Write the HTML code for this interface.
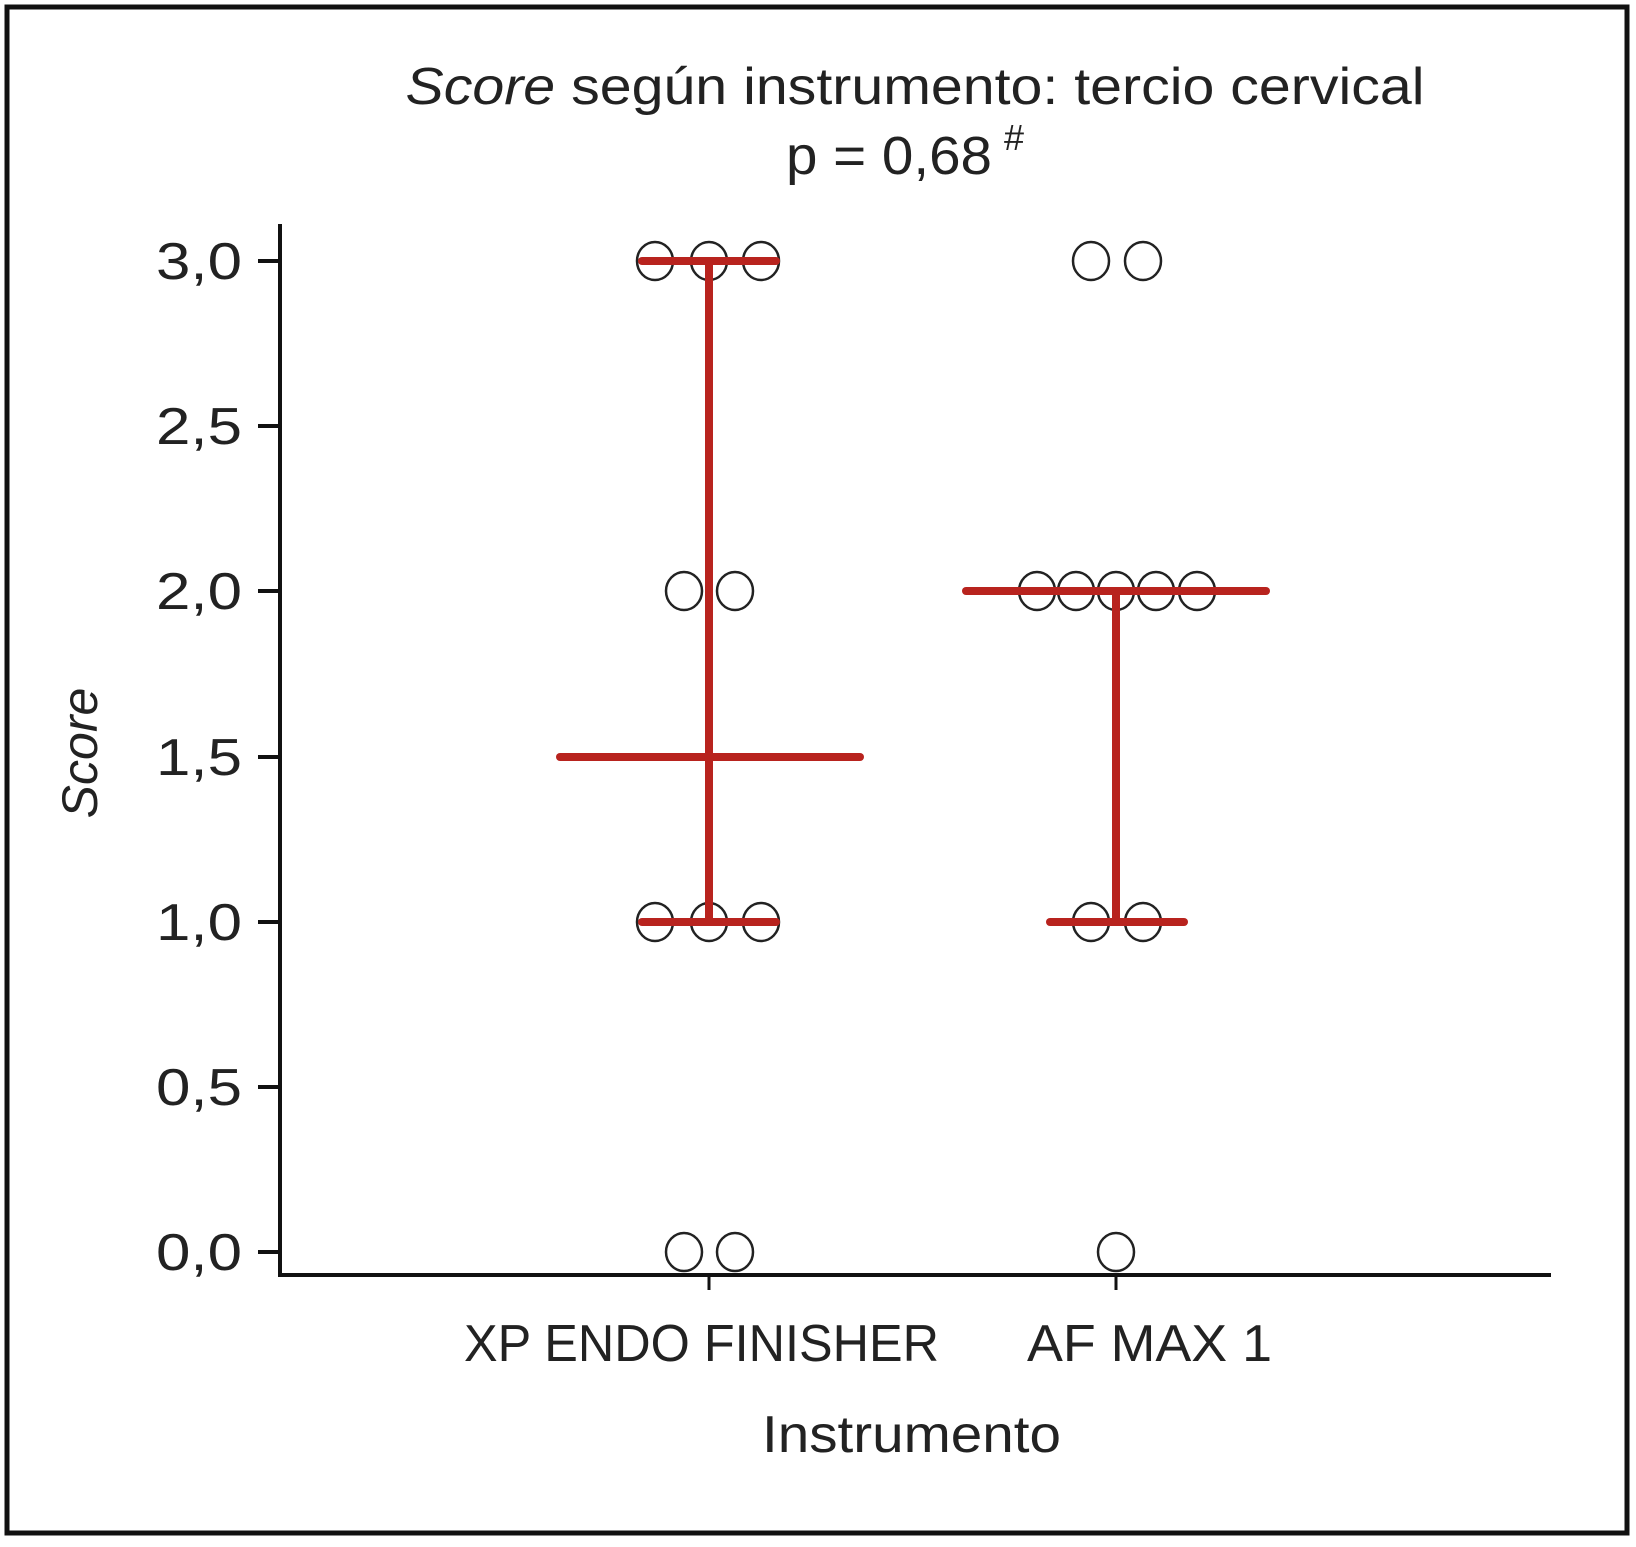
<!DOCTYPE html>
<html><head><meta charset="utf-8"><style>html,body{margin:0;padding:0;background:#fff}</style></head>
<body>
<svg width="1636" height="1542" viewBox="0 0 1636 1542" xmlns="http://www.w3.org/2000/svg" font-family="Liberation Sans, sans-serif">
<rect x="0" y="0" width="1636" height="1542" fill="#fff"/>
<rect x="7" y="7" width="1620" height="1526" fill="none" stroke="#111" stroke-width="5"/>
<text x="915" y="104" font-size="52" text-anchor="middle" fill="#222" textLength="1019" lengthAdjust="spacingAndGlyphs"><tspan font-style="italic">Score</tspan> según instrumento: tercio cervical</text>
<text x="786" y="174" font-size="54" fill="#222" textLength="206" lengthAdjust="spacingAndGlyphs">p = 0,68</text>
<text x="1004" y="150" font-size="36" fill="#222">#</text>
<g stroke="#111" stroke-width="4" fill="none">
<line x1="280" y1="224" x2="280" y2="1277"/>
<line x1="278" y1="1275" x2="1551" y2="1275"/>
<line x1="258" y1="261" x2="280" y2="261"/>
<line x1="258" y1="426" x2="280" y2="426"/>
<line x1="258" y1="591" x2="280" y2="591"/>
<line x1="258" y1="757" x2="280" y2="757"/>
<line x1="258" y1="922" x2="280" y2="922"/>
<line x1="258" y1="1087" x2="280" y2="1087"/>
<line x1="258" y1="1252" x2="280" y2="1252"/>
<line x1="709" y1="1275" x2="709" y2="1290" stroke-width="3"/>
<line x1="1116" y1="1275" x2="1116" y2="1290" stroke-width="3"/>
</g>
<g font-size="52" fill="#222">
<text x="156" y="279" textLength="86" lengthAdjust="spacingAndGlyphs">3,0</text>
<text x="156" y="444" textLength="86" lengthAdjust="spacingAndGlyphs">2,5</text>
<text x="156" y="609" textLength="86" lengthAdjust="spacingAndGlyphs">2,0</text>
<text x="156" y="775" textLength="86" lengthAdjust="spacingAndGlyphs">1,5</text>
<text x="156" y="940" textLength="86" lengthAdjust="spacingAndGlyphs">1,0</text>
<text x="156" y="1105" textLength="86" lengthAdjust="spacingAndGlyphs">0,5</text>
<text x="156" y="1270" textLength="86" lengthAdjust="spacingAndGlyphs">0,0</text>
</g>
<text transform="translate(97,753) rotate(-90)" font-size="50" font-style="italic" text-anchor="middle" fill="#222">Score</text>
<text x="464" y="1361" font-size="52" fill="#222" textLength="475" lengthAdjust="spacingAndGlyphs">XP ENDO FINISHER</text>
<text x="1027" y="1361" font-size="52" fill="#222" textLength="245" lengthAdjust="spacingAndGlyphs">AF MAX 1</text>
<text x="762" y="1452" font-size="52" fill="#222" textLength="299" lengthAdjust="spacingAndGlyphs">Instrumento</text>
<g fill="none" stroke="#222" stroke-width="2.5">
<ellipse cx="655" cy="261" rx="18" ry="19"/><ellipse cx="709" cy="261" rx="18" ry="19"/><ellipse cx="761" cy="261" rx="18" ry="19"/>
<ellipse cx="684" cy="591" rx="18" ry="19"/><ellipse cx="735" cy="591" rx="18" ry="19"/>
<ellipse cx="655" cy="922" rx="18" ry="19"/><ellipse cx="709" cy="922" rx="18" ry="19"/><ellipse cx="761" cy="922" rx="18" ry="19"/>
<ellipse cx="684" cy="1252" rx="18" ry="19"/><ellipse cx="735" cy="1252" rx="18" ry="19"/>
<ellipse cx="1091" cy="261" rx="18" ry="19"/><ellipse cx="1143" cy="261" rx="18" ry="19"/>
<ellipse cx="1037" cy="591" rx="18" ry="19"/><ellipse cx="1076" cy="591" rx="18" ry="19"/><ellipse cx="1116" cy="591" rx="18" ry="19"/><ellipse cx="1156" cy="591" rx="18" ry="19"/><ellipse cx="1197" cy="591" rx="18" ry="19"/>
<ellipse cx="1091" cy="922" rx="18" ry="19"/><ellipse cx="1143" cy="922" rx="18" ry="19"/>
<ellipse cx="1116" cy="1252" rx="18" ry="19"/>
</g>
<g stroke="#b8231e" stroke-width="8" stroke-linecap="round">
<line x1="709" y1="261" x2="709" y2="922"/>
<line x1="642" y1="261" x2="776" y2="261"/>
<line x1="642" y1="922" x2="776" y2="922"/>
<line x1="560" y1="757" x2="860" y2="757"/>
<line x1="1116" y1="591" x2="1116" y2="922"/>
<line x1="966" y1="591" x2="1266" y2="591"/>
<line x1="1050" y1="591" x2="1184" y2="591"/>
<line x1="1050" y1="922" x2="1184" y2="922"/>
</g>
</svg>
</body></html>
